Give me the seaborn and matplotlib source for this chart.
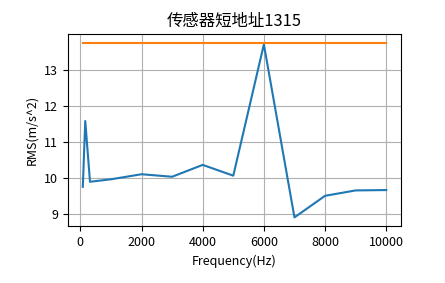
import matplotlib
matplotlib.use("Agg")
import matplotlib.pyplot as plt
import seaborn as sns
import pandas as pd

freq = [80, 160, 315, 1000, 2000, 3000, 4000, 5000, 6000, 7000, 8000, 9000, 10000]
rms = [9.76, 11.59, 9.90, 9.97, 10.11, 10.04, 10.37, 10.07, 13.72, 8.91, 9.51, 9.66, 9.67]
limit_x = [80, 10000]
limit_y = [13.76, 13.76]

title = "传感器短地址1315"
xlabel = "Frequency(Hz)"
ylabel = "RMS(m/s^2)"

plt.rcParams['font.family'] = ['Noto Sans CJK SC', 'DejaVu Sans']
plt.rcParams['axes.unicode_minus'] = False

fig = plt.figure(figsize=(4.45, 2.83), dpi=100)
ax = fig.add_axes([0.152, 0.201, 0.750, 0.678])

df = pd.DataFrame({"f": freq, "r": rms})
dl = pd.DataFrame({"f": limit_x, "r": limit_y})
sns.lineplot(data=df, x="f", y="r", ax=ax, color="#1f77b4", linewidth=1.5, sort=False)
sns.lineplot(data=dl, x="f", y="r", ax=ax, color="#ff7f0e", linewidth=1.5, sort=False)

ax.grid(True, color="#b0b0b0", linewidth=0.8)
ax.set_axisbelow(True)
ax.set_title(title, fontsize=11.8)
ax.set_xlabel(xlabel, fontsize=9)
ax.set_ylabel(ylabel, fontsize=9)
ax.tick_params(labelsize=9)
ax.set_xticks([0, 2000, 4000, 6000, 8000, 10000])
ax.set_yticks([9, 10, 11, 12, 13])

fig.savefig("out.png", dpi=100)
